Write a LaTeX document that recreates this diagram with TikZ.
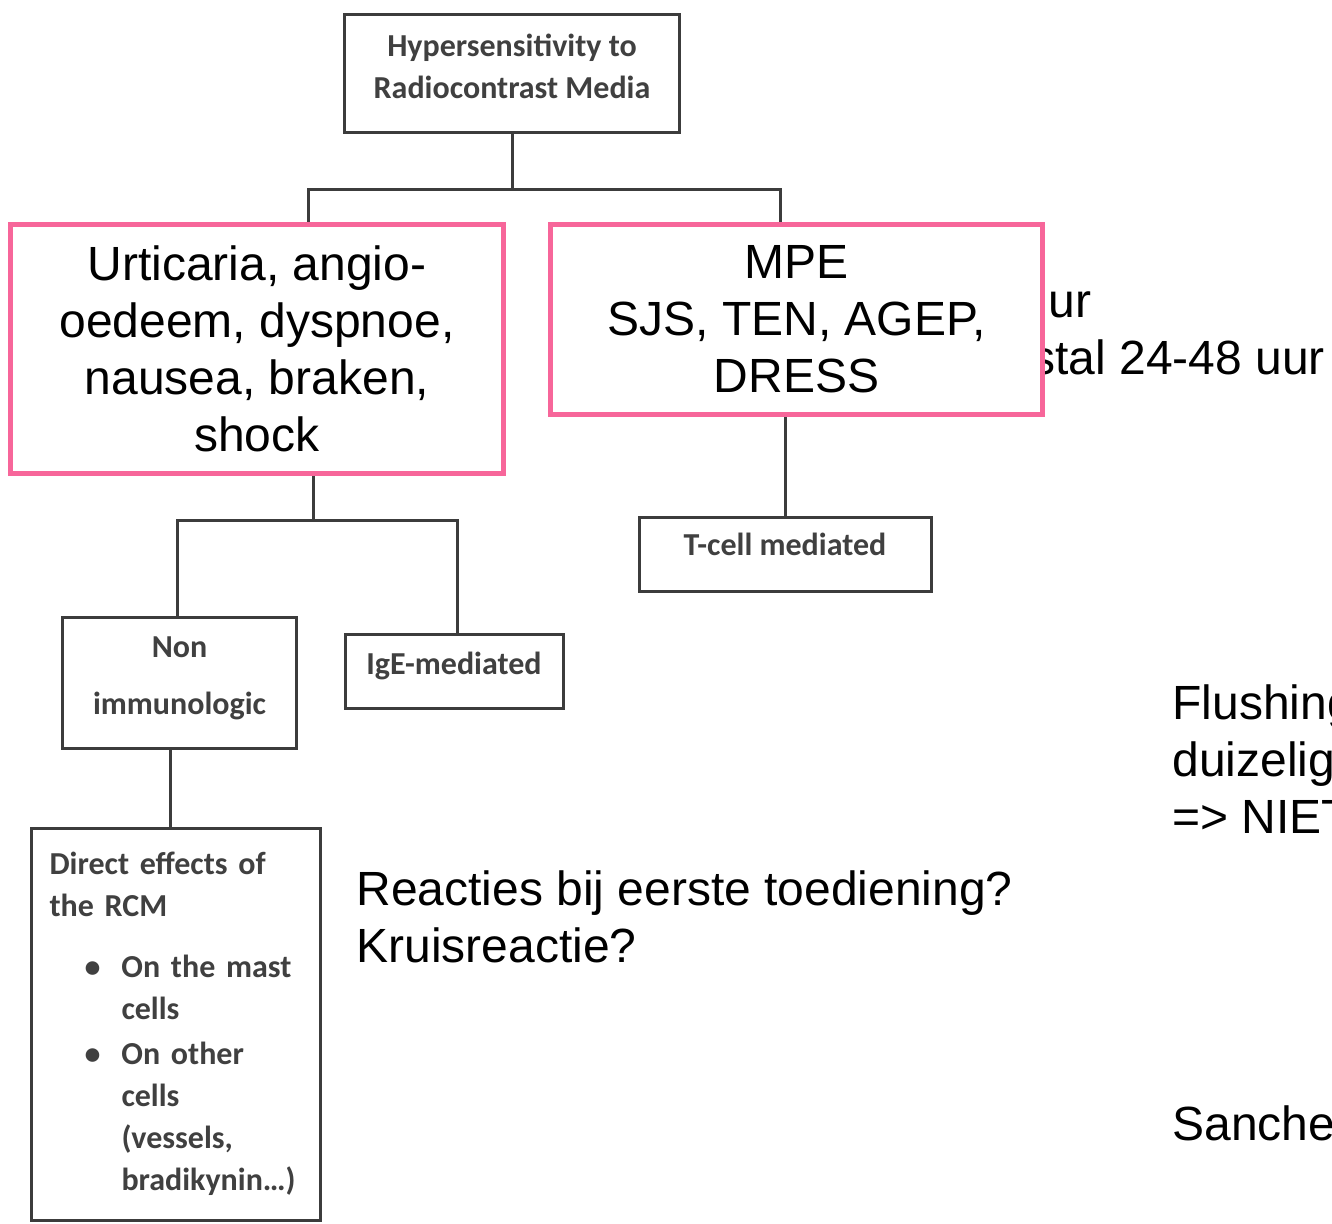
\documentclass[tikz,border=0pt]{standalone}
\usepackage{fontspec}
\setmainfont{Liberation Sans}
\newfontfamily\calfont{Carlito}
\definecolor{rcmpink}{HTML}{F7669A}
\definecolor{boxgray}{HTML}{3C3C3C}
\definecolor{txtgray}{HTML}{404040}
\newcommand{\rcmbul}{\hspace*{17.5pt}\makebox[18.5pt][l]{\textbullet}}
\newcommand{\rcmind}{\hspace*{36pt}}

\begin{document}
\begin{tikzpicture}[x=0.5pt,y=-0.5pt,
  graybox/.style={draw=boxgray,line width=1.5pt,fill=white,text=txtgray,
    font=\calfont\bfseries\fontsize{16}{21}\selectfont,align=center,inner sep=0pt},
  pinkbox/.style={draw=rcmpink,line width=2.5pt,fill=white,
    font=\fontsize{24}{28.5}\selectfont,align=center,inner sep=0pt},
  conn/.style={draw=boxgray,line width=1.5pt},
  note/.style={font=\fontsize{24}{28.5}\selectfont,align=left,inner sep=0pt}]
\useasboundingbox (0,0) rectangle (1332,1224);

% text partly hidden behind the MPE box
\node[note,anchor=base west] (uur1) at (1048,318) {ur};
\node[note,anchor=base west] (uur2) at (1031,375) {stal 24-48 uur};

\node[graybox,minimum width=167.5pt,minimum height=59pt,text depth=7pt] (hyp) at (512,73.5)
  {Hypersensitivity to\\Radiocontrast Media};
\node[pinkbox,minimum width=246.5pt,minimum height=124.5pt] (urt) at (257,349)
  {Urticaria, angio-\\oedeem, dyspnoe,\\nausea, braken,\\shock};
\node[pinkbox,minimum width=246pt,minimum height=95pt] (mpe) at (796.5,319.5)
  {MPE\\SJS, TEN, AGEP,\\DRESS};
\node[graybox,minimum width=117pt,minimum height=65.5pt,text depth=7.5pt,
  font=\calfont\bfseries\fontsize{16}{28.5}\selectfont] (nonimm) at (179.5,683) {Non\\immunologic};
\node[graybox,minimum width=109pt,minimum height=37pt,text depth=8pt] (ige) at (454,671) {IgE-mediated};
\node[graybox,minimum width=146pt,minimum height=37pt,text depth=10pt] (tcell) at (785,554) {T-cell mediated};
\node[graybox,minimum width=144.5pt,minimum height=196pt,text width=126pt,align=left,
  font=\calfont\bfseries\fontsize{16}{21}\selectfont] (direct) at (175.5,1024)
  {Direct effects of\\the RCM\\[9.5pt]
   \rcmbul On the mast\\\rcmind cells\\[1.5pt]
   \rcmbul On other\\\rcmind cells\\\rcmind (vessels,\\\rcmind bradikynin…)};

\draw[conn] (hyp.south) -- ++(0,56) coordinate (hypbus);
\draw[conn] ([xshift=25.5pt]urt.north) |- (hypbus) -| ([xshift=-8.25pt]mpe.north);
\draw[conn] ([xshift=28pt]urt.south) -- ++(0,44) coordinate (urtbus);
\draw[conn] ([xshift=-1.25pt]nonimm.north) |- (urtbus) -| ([xshift=1.5pt]ige.north);
\draw[conn] (tcell.north) -- (tcell.north |- mpe.south);
\draw[conn] ([xshift=-4.75pt]nonimm.south) -- ([xshift=-4.75pt]nonimm.south |- direct.north);

\node[note,anchor=base west] (reac) at (356,962) {Reacties bij eerste toediening?\\Kruisreactie?};
\node[note,anchor=base west] (flush) at (1172,833) {Flushing\\duizelig\\=> NIET};
\node[note,anchor=base west] (sanch) at (1172,1140) {Sanche};
\end{tikzpicture}
\end{document}
